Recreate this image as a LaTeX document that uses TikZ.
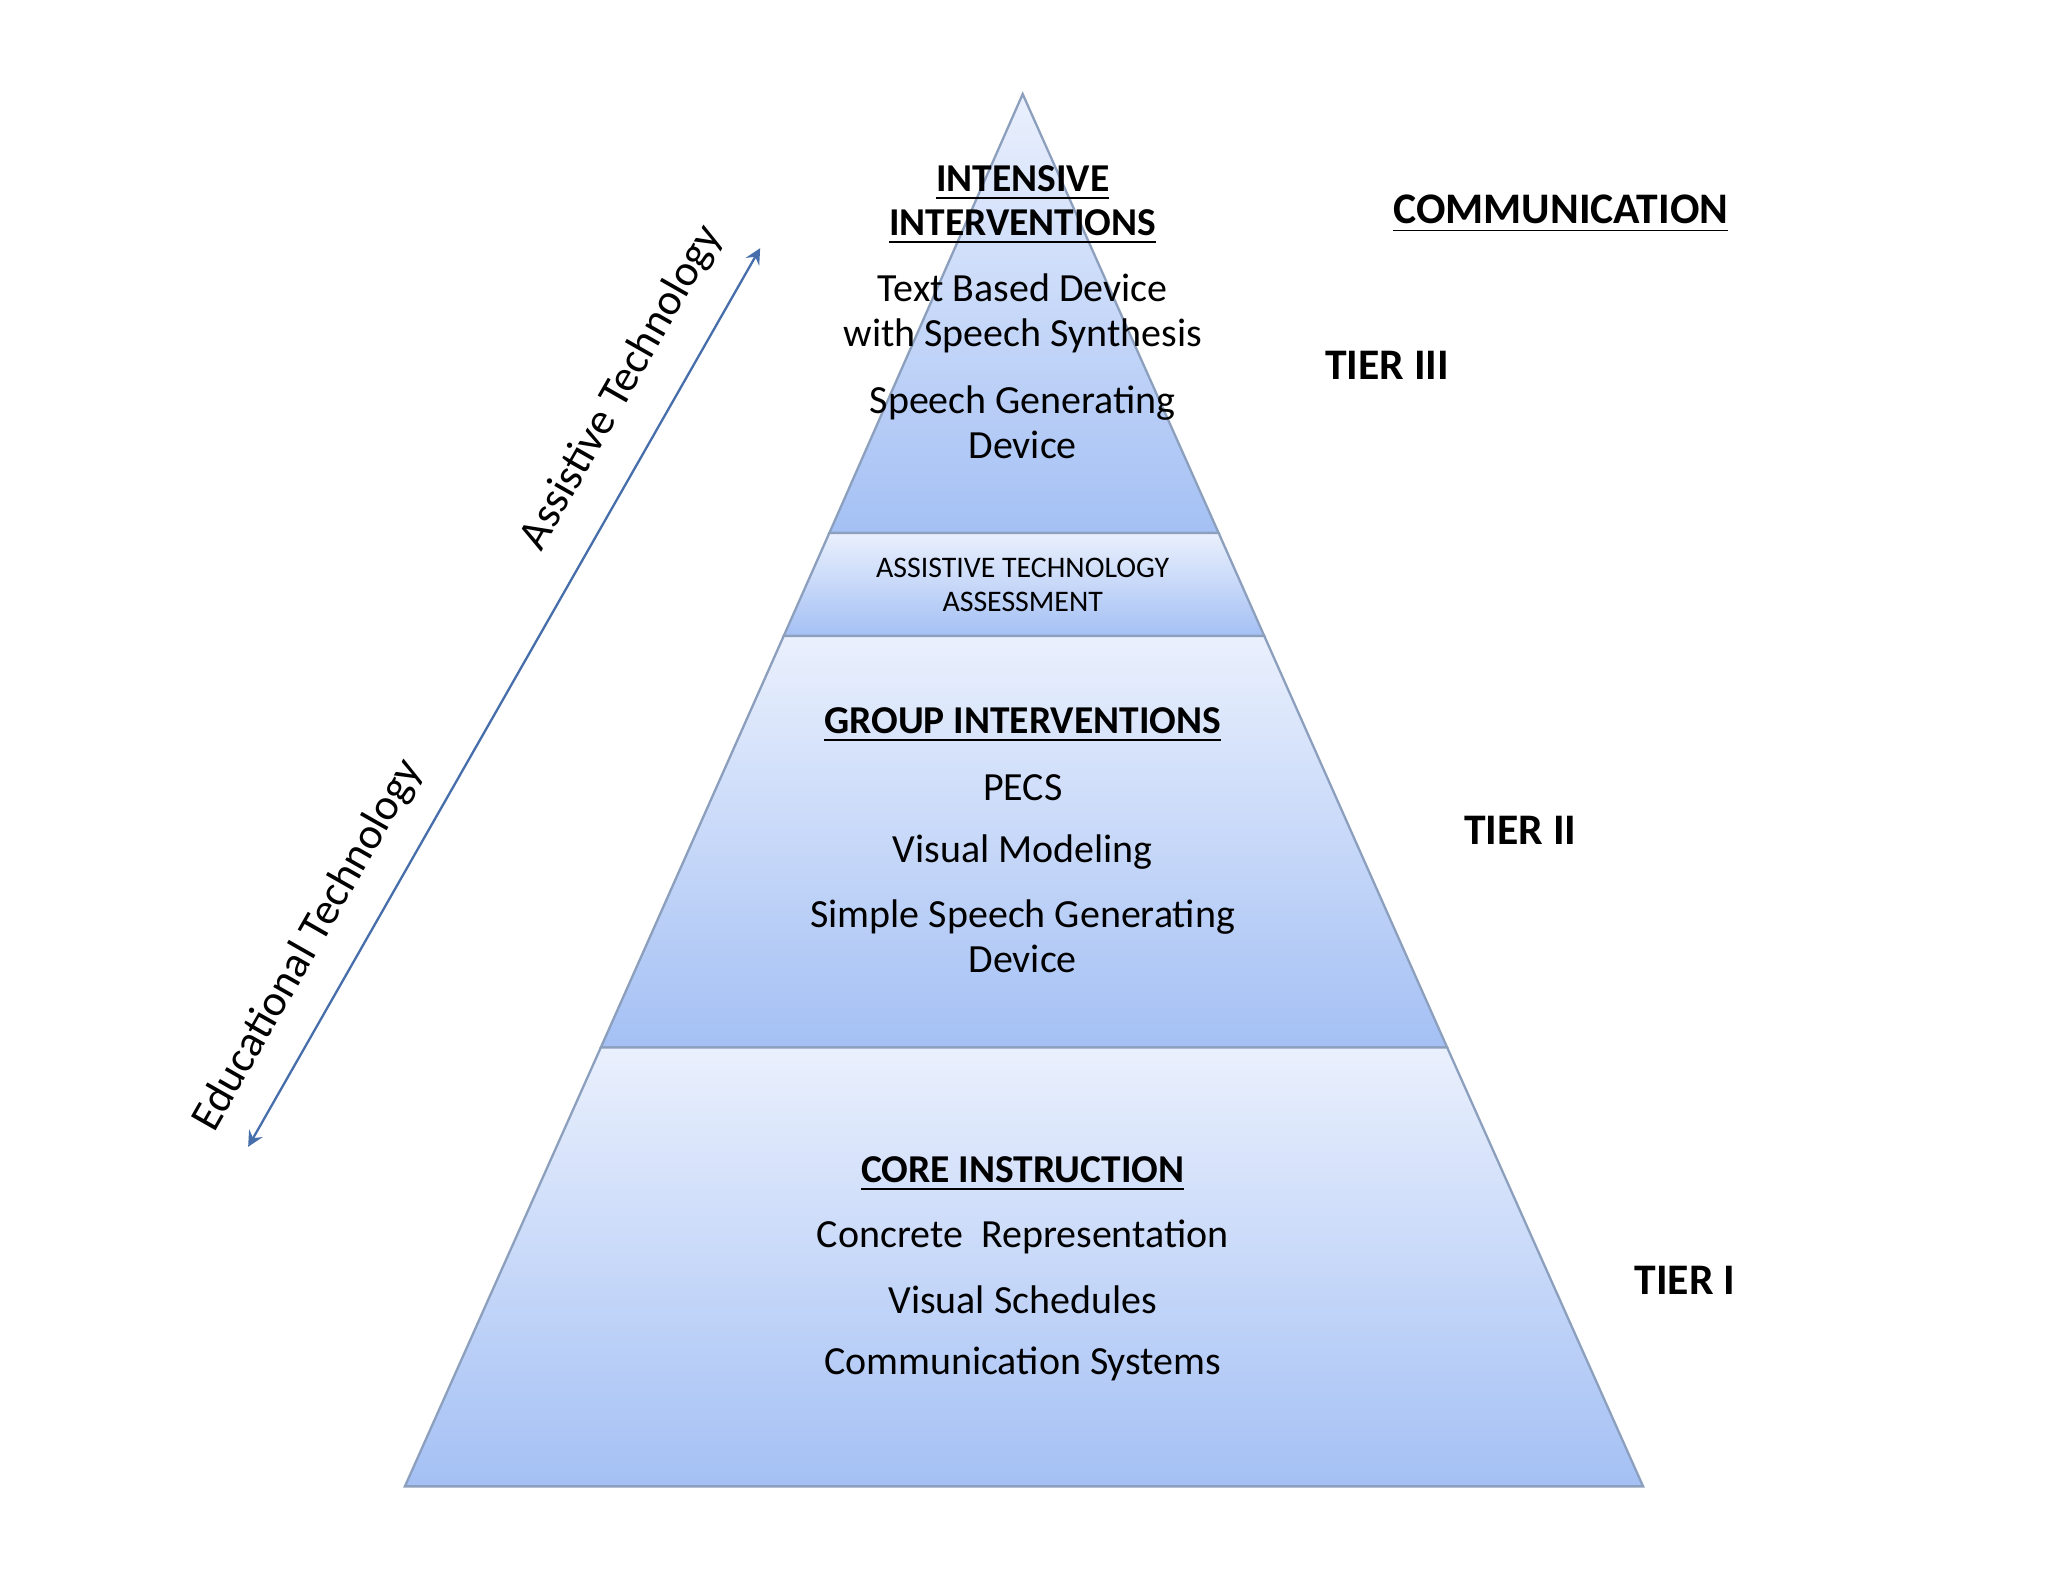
\documentclass[tikz,border=0pt]{standalone}
\usepackage{fontspec}
\setmainfont{Carlito}
\definecolor{layerblue}{RGB}{164,192,244}
\definecolor{layertop}{RGB}{234,240,253}
\definecolor{edgec}{RGB}{140,160,190}
\definecolor{arrowc}{RGB}{70,110,170}
\begin{document}
\begin{tikzpicture}[x=0.01cm,y=-0.01cm,
  layer/.style={draw=edgec, line width=0.5pt, top color=layertop, bottom color=layerblue},
  txt/.style={font=\fontsize{8.7}{9.8}\selectfont, align=center, inner sep=0pt},
  hd/.style={txt, font=\fontsize{8.6}{9.8}\selectfont\bfseries},
  tier/.style={font=\fontsize{9.5}{10}\selectfont\bfseries, inner sep=0pt},
  sm/.style={font=\fontsize{6.5}{7.4}\selectfont, align=center, inner sep=0pt},
  diag/.style={font=\fontsize{9.6}{10}\selectfont, inner sep=0pt, rotate=60.3}]
\useasboundingbox (0,0) rectangle (1568,1211);
\fill[white] (0,0) rectangle (1568,1211);
\draw[layer] (783,72) -- (933,408) -- (635,408) -- cycle;
\draw[layer] (635,408) -- (933,408) -- (968,487) -- (600,487) -- cycle;
\draw[layer] (600,487) -- (968,487) -- (1108,802) -- (460,802) -- cycle;
\draw[layer] (460,802) -- (1108,802) -- (1258,1138) -- (310,1138) -- cycle;
\node[hd] (t1) at (783,140) {\underline{INTENSIVE}};
\node[hd] (t2) at (783,174) {\underline{INTERVENTIONS}};
\node[txt] (t3) at (783,240) {Text Based Device\\with Speech Synthesis};
\node[txt] (t4) at (783,323) {Speech Generating\\Device};
\node[sm] (a1) at (783,448) {ASSISTIVE TECHNOLOGY\\ASSESSMENT};
\node[hd] (g1) at (783,555) {\underline{GROUP INTERVENTIONS}};
\node[txt] (g2) at (783,603) {PECS};
\node[txt] (g3) at (783,652) {Visual Modeling};
\node[txt] (g4) at (783,717) {Simple Speech Generating\\Device};
\node[hd] (c1) at (783,899) {\underline{CORE INSTRUCTION}};
\node[txt] (c2) at (783,947) {Concrete\ \ Representation};
\node[txt] (c3) at (783,995) {Visual Schedules};
\node[txt] (c4) at (783,1044) {Communication Systems};
\node[tier] (com) at (1195,164) {\underline{COMMUNICATION}};
\node[tier] (tr3) at (1062,280) {TIER III};
\node[tier] (tr2) at (1164,636) {TIER II};
\node[tier] (tr1) at (1290,980) {TIER I};
\coordinate (ae) at (582,190);
\coordinate (ee) at (190,878);
\draw[<->, >=stealth, draw=arrowc, line width=0.5pt] (ae) -- (ee);
\node[diag] (at) at (476,297) {Assistive Technology};
\node[diag] (et) at (236,724) {Educational Technology};
\end{tikzpicture}
\end{document}
